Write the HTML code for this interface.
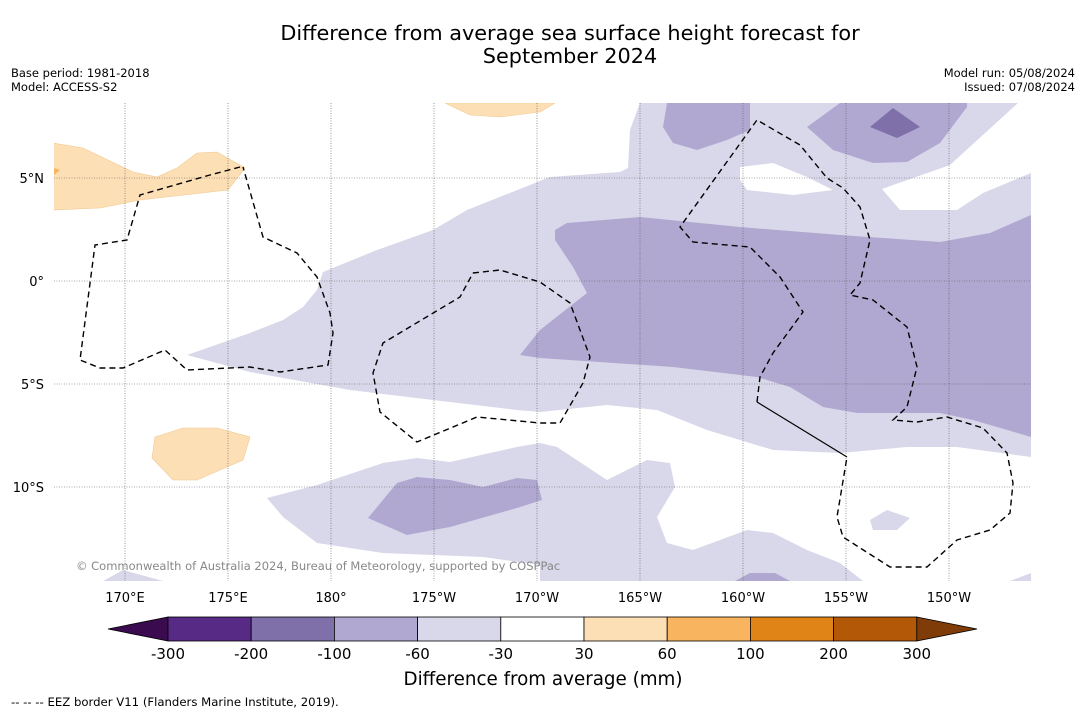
<!DOCTYPE html>
<html><head><meta charset="utf-8"><style>
body{margin:0;background:#fff;font-family:"DejaVu Sans","Liberation Sans",sans-serif;}
#wrap{position:relative;width:1085px;height:713px;overflow:hidden;background:#fff}
.t{position:absolute;white-space:nowrap;color:#000}
</style></head><body>
<div id="wrap">
<div class="t" style="left:0;width:1140px;text-align:center;top:22px;font-size:20.8px;line-height:23px">Difference from average sea surface height forecast for<br>September 2024</div>
<div class="t" style="left:11px;top:66px;font-size:11.5px;line-height:14px">Base period: 1981-2018<br>Model: ACCESS-S2</div>
<div class="t" style="right:10px;top:66px;font-size:11.5px;line-height:14px;text-align:right">Model run: 05/08/2024<br>Issued: 07/08/2024</div>
<svg id="map" width="1085" height="713" style="position:absolute;left:0;top:0">
<defs><clipPath id="clip"><rect x="54" y="103" width="977" height="478"/></clipPath></defs>
<g clip-path="url(#clip)">
<polygon fill="#d8d8ea" points="640,103 1018,103 950,165 882,189 900,210 957,210 983,193 1031,173 1031,457 957,447 907,447 840,453 773,450 707,430 657,410 607,405 540,412 517,410 433,400 350,390 250,372 187,355 250,333 283,320 303,307 317,290 323,272 377,250 433,230 467,210 550,177 620,172 628,168 630,130"/>
<polygon fill="#fff" points="740,167 773,163 807,177 833,190 793,195 747,190 740,180"/>
<polygon fill="#d8d8ea" points="267,498 317,485 383,463 417,458 450,462 517,447 540,443 557,447 607,480 647,460 670,463 675,487 657,517 667,543 693,550 747,530 773,533 807,550 840,563 863,581 540,581 540,565 483,557 383,553 317,543 283,517"/>
<polygon fill="#d8d8ea" points="103,581 123,570 163,581"/>
<polygon fill="#d8d8ea" points="870,520 887,510 910,518 897,530 873,530"/>
<polygon fill="#d8d8ea" points="1010,581 1031,573 1031,581"/>
<polygon fill="#b0a8d0" points="555,230 567,223 640,217 740,227 840,235 940,242 990,233 1031,215 1031,437 973,420 940,413 857,413 823,407 790,387 757,377 673,367 540,358 520,355 540,330 587,293 573,267 555,240"/>
<polygon fill="#b0a8d0" points="667,103 750,103 750,130 727,140 697,150 673,143 663,127"/>
<polygon fill="#b0a8d0" points="840,103 967,103 967,107 940,143 907,162 873,163 833,150 807,127"/>
<polygon fill="#7f70aa" points="870,127 893,108 920,127 897,138"/>
<polygon fill="#b0a8d0" points="368,518 397,483 417,477 450,480 483,487 517,478 537,480 542,500 517,508 450,527 407,535"/>
<polygon fill="#b0a8d0" points="735,581 750,573 775,573 790,581"/>
<polygon fill="#fddfb5" stroke="#f0c890" stroke-width="0.6" points="53,143 83,148 133,172 157,177 177,168 197,153 217,152 245,168 228,190 140,200 100,208 53,210"/>
<polygon fill="#f8b45e" points="54,168 60,170 54,175"/>
<polygon fill="#fddfb5" stroke="#f0c890" stroke-width="0.6" points="445,103 470,115 500,117 540,112 555,103"/>
<polygon fill="#fddfb5" stroke="#f0c890" stroke-width="0.6" points="155,437 183,428 217,428 250,437 243,460 197,480 173,480 152,458"/>
</g>
<g id="grid" stroke="#555" stroke-width="0.6" stroke-dasharray="1,1.5"></g>
<g clip-path="url(#clip)" fill="none" stroke="#000" stroke-width="1.4" stroke-dasharray="6,4">
<polyline points="240,167 210,175 140,195 127,240 95,245 80,360 100,368 123,368 165,350 187,370 250,367 280,372 328,365 333,333 330,313 317,277 297,253 263,237 243,167"/>
<polyline points="473,273 500,270 540,282 570,303 590,357 583,383 560,423 540,423 477,417 417,442 380,412 373,373 383,343 460,297 473,273"/>
<polyline points="757,402 760,377 773,353 803,312 780,277 750,247 693,242 680,227 757,120 800,145 827,178 843,188 860,207 870,240 860,283 850,295 873,300 907,327 917,367 907,407 893,420 917,422 947,417 983,428 1007,453 1013,483 1010,513 990,530 957,540 927,567 890,567 843,537 837,517 847,457"/>
<polyline stroke-dasharray="none" stroke-width="1.2" points="757,402 847,457"/>
</g>
<g id="ticks" font-family="DejaVu Sans, sans-serif" font-size="13" fill="#000"></g>
<text x="76" y="570" font-size="11.5" fill="#888" font-family="DejaVu Sans, sans-serif">© Commonwealth of Australia 2024, Bureau of Meteorology, supported by COSPPac</text>
<g id="cbar"></g>
<text x="543" y="685" text-anchor="middle" font-size="18.3" font-family="DejaVu Sans, sans-serif">Difference from average (mm)</text>
<text x="11" y="706" font-size="11.7" font-family="DejaVu Sans, sans-serif">--  --  -- EEZ border V11 (Flanders Marine Institute, 2019).</text>
</svg>
</div>
<script>
const lonTicks=["170°E","175°E","180°","175°W","170°W","165°W","160°W","155°W","150°W"];
const lonVals=[170,175,180,185,190,195,200,205,210];
const latTicks=["5°N","0°","5°S","10°S"];
const latVals=[5,0,-5,-10];
const levels=[-300,-200,-100,-60,-30,30,60,100,200,300];
const binColors=["#562a85","#7f70aa","#b0a8d0","#d8d8ea","#ffffff","#fddfb5","#f8b45e","#e08418","#b35806"];
const lowColor="#3b0b4f", highColor="#7f3b08";
const NS="http://www.w3.org/2000/svg";
const xLon=l=>125+(l-170)*20.6;
const yLat=l=>281-l*20.6;
const grid=document.getElementById('grid'),ticks=document.getElementById('ticks'),cbar=document.getElementById('cbar');
function mk(t,a){const e=document.createElementNS(NS,t);for(const k in a)e.setAttribute(k,a[k]);return e;}
lonVals.forEach((v,i)=>{const x=xLon(v);
 const ln=mk('line',{x1:x,x2:x,y1:103,y2:581});
 
 
 grid.appendChild(ln);
 const t=mk('text',{x:x,y:602,'text-anchor':'middle'});t.textContent=lonTicks[i];
 
 
 ticks.appendChild(t);});
latVals.forEach((v,i)=>{const y=yLat(v);
 const ln=mk('line',{x1:54,x2:1031,y1:y,y2:y});
 
 
 grid.appendChild(ln);
 const t=mk('text',{x:44,y:y+5,'text-anchor':'end'});t.textContent=latTicks[i];
 
 
 ticks.appendChild(t);});
const cx0=168,cw=83.2,cy=617,ch=24;
const lt=mk('polygon',{points:`108,${cy+ch/2} ${cx0},${cy} ${cx0},${cy+ch}`,fill:lowColor,stroke:'#000','stroke-width':0.8});


cbar.appendChild(lt);
binColors.forEach((c,i)=>{const r=mk('rect',{x:cx0+i*cw,y:cy,width:cw,height:ch,fill:c,stroke:'#000','stroke-width':0.8});
 
 
 cbar.appendChild(r);});
const xe=cx0+binColors.length*cw;
const ht=mk('polygon',{points:`${xe},${cy} 977,${cy+ch/2} ${xe},${cy+ch}`,fill:highColor,stroke:'#000','stroke-width':0.8});


cbar.appendChild(ht);
levels.forEach((v,i)=>{const t=mk('text',{x:cx0+i*cw,y:659,'text-anchor':'middle','font-size':15,'font-family':'DejaVu Sans, sans-serif'});t.textContent=v;
 
 
 cbar.appendChild(t);});
</script>
</body></html>
